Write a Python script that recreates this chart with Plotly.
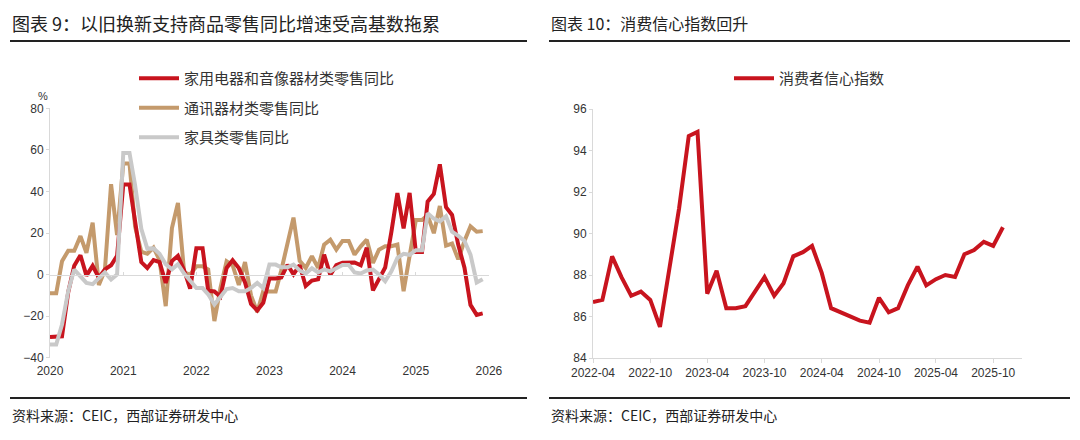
import pandas as pd
import plotly.graph_objects as go

# ---------------- data ----------------
left_months = pd.date_range("2020-01-01", periods=72, freq="MS")

appliance_yoy = [
    -30.0, -30.0, -29.7, -8.5, 4.3, 9.3, -0.5, 4.2, -1.5, 2.5, 4.5, 9.0,
    43.3, 43.3, 25.0, 6.0, 3.2, 7.0, 6.0, -4.0, 6.5, 9.0, 2.0, -6.8,
    12.7, 12.7, -7.8, -8.1, -10.6, 3.2, 6.9, 3.1, -3.8, -14.1, -17.3, -13.6,
    -1.9, -1.9, -1.4, 4.7, 0.1, 4.5, -5.5, -2.9, -2.3, 9.6, -0.2, 4.5,
    5.7, 5.7, 5.8, 4.5, 12.9, -7.6, -2.4, 3.4, 20.5, 39.2, 22.2, 39.3,
    10.9, 10.9, 35.1, 38.8, 53.0, 32.4, 28.7, 14.3, 3.3, -14.6, -19.4, -18.7,
]
telecom_yoy = [
    -9.0, -9.0, 6.4, 11.5, 11.5, 18.5, 10.5, 25.0, -5.0, 2.0, 43.5, 19.0,
    53.5, 53.5, 23.0, 11.0, 10.0, 13.0, 7.0, -15.2, 22.4, 34.5, 1.0, 0.0,
    4.0, 4.0, 2.4, -22.4, -6.5, 6.4, 4.5, -5.0, 6.0, -10.0, -18.0, -8.0,
    -8.2, -8.2, 2.0, 14.6, 27.4, 6.6, 3.2, 8.8, 3.2, 14.4, 16.8, 12.0,
    16.2, 16.2, 9.6, 13.6, 16.8, 5.6, 12.0, 13.6, 13.6, 14.4, -8.0, 9.0,
    26.2, 26.2, 28.6, 19.9, 33.0, 13.9, 14.9, 7.3, 16.2, 23.2, 20.6, 20.9,
]
furniture_yoy = [
    -33.7, -33.7, -24.0, -8.0, 2.4, -1.0, -4.0, -4.6, -1.5, 1.0, -2.4, 0.0,
    58.5, 58.5, 43.0, 22.0, 12.5, 12.6, 10.0, 5.0, 2.5, 5.0, 0.5, -3.0,
    -6.5, -6.5, -9.5, -14.4, -10.5, -7.0, -6.5, -8.0, -8.0, -6.5, -4.0, -6.5,
    4.8, 4.8, 3.5, 3.5, 4.8, 2.0, 0.5, 3.0, 1.0, 2.5, 1.5, 3.0,
    4.6, 4.6, 1.0, 0.5, 2.0, 2.4, 0.0, -3.2, 1.6, 8.0, 10.0, 9.5,
    11.7, 11.7, 29.5, 26.9, 25.6, 28.0, 20.6, 18.6, 16.2, 9.6, -3.8, -2.2,
]

right_months = pd.date_range("2022-04-01", periods=44, freq="MS")
confidence_index = [
    86.7, 86.8, 88.9, 87.9, 87.0, 87.2, 86.8, 85.5, 88.3,
    91.2, 94.7, 94.9, 87.1, 88.2, 86.4, 86.4, 86.5, 87.2, 87.9, 87.0, 87.6,
    88.9, 89.1, 89.4, 88.1, 86.4, 86.2, 86.0, 85.8, 85.7, 86.9, 86.2, 86.4,
    87.5, 88.4, 87.5, 87.8, 88.0, 87.9, 89.0, 89.2, 89.6, 89.4, 90.3,
]

left_names = ["家用电器和音像器材类零售同比", "通讯器材类零售同比", "家具类零售同比"]
right_name = "消费者信心指数"

title_left = "图表 9：以旧换新支持商品零售同比增速受高基数拖累"
title_right = "图表 10：消费信心指数回升"
source_text = "资料来源：CEIC，西部证券研发中心"

# ---------------- style ----------------
RED = "#C8141E"
GOLD = "#C49A6C"
GRAY = "#C9C9C9"
AXIS = "#D9D9D9"
TXT = "#333333"
CJK = "Noto Sans CJK SC"
LAT = "Liberation Sans, Arial"

W, H = 1080, 440
OFF = 8  # page body margin of the browser
def px(x):
    return (x - OFF) / W
def py(y):
    return 1 - (y - OFF) / H

fig = go.Figure()

# left chart traces (drawing order: gold, red, gray on top)
fig.add_trace(go.Scatter(x=left_months, y=telecom_yoy, name=left_names[1], mode="lines",
                         line=dict(color=GOLD, width=4), xaxis="x", yaxis="y",
                         legend="legend", legendgroup="b", legendrank=2))
fig.add_trace(go.Scatter(x=left_months, y=appliance_yoy, name=left_names[0], mode="lines",
                         line=dict(color=RED, width=4), xaxis="x", yaxis="y",
                         legend="legend", legendgroup="a", legendrank=1))
fig.add_trace(go.Scatter(x=left_months, y=furniture_yoy, name=left_names[2], mode="lines",
                         line=dict(color=GRAY, width=4), xaxis="x", yaxis="y",
                         legend="legend", legendgroup="c", legendrank=3))
# dummy trace to activate zero-line axis
fig.add_trace(go.Scatter(x=[left_months[0]], y=[None], mode="lines", showlegend=False,
                         xaxis="x3", yaxis="y", hoverinfo="skip"))

# right chart
fig.add_trace(go.Scatter(x=right_months, y=confidence_index, name=right_name, mode="lines",
                         line=dict(color=RED, width=4), xaxis="x2", yaxis="y2",
                         legend="legend2"))

ydom_l = [py(357.7), py(108.3)]
zero_pos = ydom_l[0] + (0 - (-40)) / 120 * (ydom_l[1] - ydom_l[0])

fig.update_layout(
    width=W, height=H,
    margin=dict(l=0, r=0, t=0, b=0, pad=0, autoexpand=False),
    paper_bgcolor="white", plot_bgcolor="white",
    hovermode=False,
    font=dict(family=LAT, size=12, color=TXT),
    xaxis=dict(domain=[px(50), px(489)], anchor="y", type="date", automargin=False,
               range=["2020-01-01", "2026-01-01 12:00"], dtick="M12", tick0="2020-01-01",
               tickformat="%Y", showline=False, showgrid=False, zeroline=False,
               ticks="outside", ticklen=2, tickcolor="rgba(0,0,0,0)",
               tickfont=dict(family=LAT, size=12, color=TXT)),
    xaxis3=dict(overlaying="x", anchor="free", position=zero_pos, type="date", automargin=False,
                range=["2020-01-01", "2026-01-01 12:00"], dtick="M12", tick0="2020-01-01",
                showticklabels=False, showline=True, linecolor=AXIS, linewidth=1,
                ticks="inside", ticklen=3, tickcolor=AXIS, showgrid=False, zeroline=False),
    yaxis=dict(domain=ydom_l, anchor="x", range=[-40, 80], dtick=20, automargin=False,
               showline=True, linecolor=AXIS, linewidth=1, ticks="outside", ticklen=3,
               tickcolor=AXIS, showgrid=False, zeroline=False,
               tickfont=dict(family=LAT, size=12, color=TXT)),
    xaxis2=dict(domain=[px(593), px(1022)], anchor="y2", type="date", automargin=False,
                range=["2022-04-01", "2026-01-01"], dtick="M6", tick0="2022-04-01",
                tickformat="%Y-%m", showline=True, linecolor=AXIS, linewidth=1,
                ticks="outside", ticklen=4, tickcolor=AXIS, showgrid=False, zeroline=False,
                tickfont=dict(family=LAT, size=12, color=TXT)),
    yaxis2=dict(domain=[py(358), py(109)], anchor="x2", range=[84, 96], dtick=2, automargin=False,
                showline=True, linecolor=AXIS, linewidth=1, ticks="outside", ticklen=3,
                tickcolor=AXIS, showgrid=False, zeroline=False,
                tickfont=dict(family=LAT, size=12, color=TXT)),
    legend=dict(x=px(134), y=py(62), xanchor="left", yanchor="top",
                bgcolor="rgba(0,0,0,0)", tracegroupgap=7, itemwidth=40,
                font=dict(family=CJK, size=15, color=TXT), traceorder="grouped"),
    legend2=dict(x=px(729), y=py(62), xanchor="left", yanchor="top",
                 bgcolor="rgba(0,0,0,0)", itemwidth=40,
                 font=dict(family=CJK, size=15, color=TXT)),
)

# titles, rules, source notes
for x0, x1, title, tsize in [(10, 527, title_left, 18), (549, 1070, title_right, 16)]:
    fig.add_annotation(x=px(x0), y=py(23), xref="paper", yref="paper", text=title,
                       showarrow=False, xanchor="left", yanchor="middle",
                       font=dict(family=CJK, size=tsize, color="#222222"))
    fig.add_shape(type="line", xref="paper", yref="paper", x0=px(x0), x1=px(x1),
                  y0=py(41), y1=py(41), line=dict(color="#222222", width=2))
    fig.add_shape(type="line", xref="paper", yref="paper", x0=px(x0), x1=px(x1),
                  y0=py(398), y1=py(398), line=dict(color="#222222", width=2))
    fig.add_annotation(x=px(x0), y=py(415), xref="paper", yref="paper", text=source_text,
                       showarrow=False, xanchor="left", yanchor="middle",
                       font=dict(family=CJK, size=14, color="#222222"))

fig.add_annotation(x=px(43), y=py(96), xref="paper", yref="paper", text="%",
                   showarrow=False, xanchor="center", yanchor="middle",
                   font=dict(family=LAT, size=11, color=TXT))

fig.write_html("out.html")
